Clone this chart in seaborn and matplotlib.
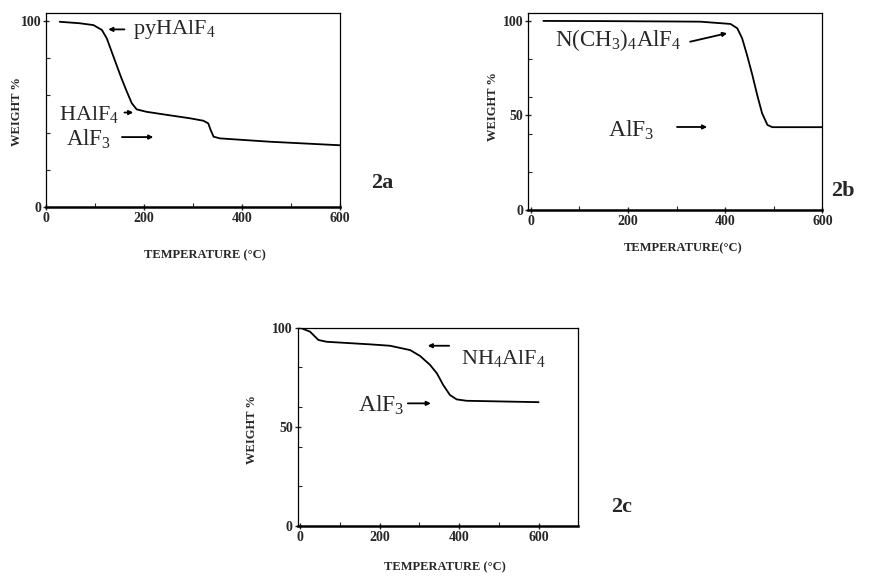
import numpy as np
import pandas as pd
import seaborn as sns
import matplotlib.pyplot as plt

# TGA curves (temperature in C, weight %)
temp_a = [28, 69, 97, 114, 124, 134, 144, 154, 165, 175, 185, 205, 240, 294,
          321, 331, 336, 342, 355, 457, 600]
weight_a = [99.6, 98.8, 97.8, 95.2, 90.7, 83.5, 76.3, 69.2, 62.0, 55.8, 52.5,
            51.2, 49.8, 47.7, 46.4, 45.0, 41.4, 37.8, 36.9, 35.1, 33.2]

temp_b = [26, 150, 294, 349, 411, 425, 435, 445, 456, 466, 476, 487, 497, 600]
weight_b = [100.0, 99.9, 99.7, 99.6, 98.4, 96.1, 90.8, 82.0, 71.4, 60.8, 51.2,
            45.0, 43.8, 43.8]

temp_c = [0, 25, 46, 67, 176, 226, 277, 302, 327, 344, 360, 377, 394, 419, 600]
weight_c = [100.0, 98.0, 93.8, 92.9, 91.6, 90.9, 88.7, 85.7, 81.2, 77.0, 71.1,
            66.0, 63.8, 63.1, 62.4]

sns.set_style('ticks')
plt.rcParams['font.family'] = ['Liberation Serif', 'DejaVu Serif']
plt.rcParams['mathtext.fontset'] = 'custom'
plt.rcParams['mathtext.rm'] = 'Liberation Serif'
plt.rcParams['mathtext.default'] = 'regular'

fig = plt.figure(figsize=(8.78, 5.82), dpi=100)
ax_a = fig.add_axes([0.0524, 0.6443, 0.3349, 0.3333])
ax_b = fig.add_axes([0.6017, 0.6392, 0.3349, 0.3385])
ax_c = fig.add_axes([0.3391, 0.0967, 0.3196, 0.3402])

def style_axes(ax, xlim, ylim, yticks, xticks):
    ax.set_xlim(*xlim)
    ax.set_ylim(*ylim)
    ax.set_xticks(xticks)
    ax.set_yticks(yticks)
    ax.set_xticks([100, 300, 500], minor=True)
    ax.set_yticks([20, 40, 60, 80], minor=True)
    for s in ax.spines.values():
        s.set_visible(True)
        s.set_linewidth(0.9)
        s.set_color('black')
    ax.spines['bottom'].set_linewidth(1.8)
    ax.tick_params(which='major', direction='inout', length=5, width=1,
                   labelsize=10, pad=1)
    ax.tick_params(which='minor', direction='in', length=3, width=0.8)
    for lbl in ax.get_xticklabels() + ax.get_yticklabels():
        lbl.set_fontweight('bold')
    ax.set_xlabel('')
    ax.set_ylabel('')

arrow = dict(arrowstyle='-|>', color='black', lw=1.3, mutation_scale=6,
             shrinkA=0, shrinkB=0)
label_kw = dict(fontsize=9, fontweight='bold', ha='center', va='center')

# 2a
sns.lineplot(x=temp_a, y=weight_a, ax=ax_a, color='black', linewidth=1.3)
style_axes(ax_a, (0, 600), (0, 104.3), [0, 100], [0, 200, 400, 600])
ax_a.annotate('', xy=(127, 95.5), xytext=(160, 95.5), arrowprops=arrow)
ax_a.text(178, 95.5, 'pyHAlF$_4$', fontsize=16, va='center', ha='left')
ax_a.text(27, 49.5, 'HAlF$_4$', fontsize=16, va='center', ha='left')
ax_a.annotate('', xy=(178, 50.8), xytext=(160, 50.8), arrowprops=arrow)
ax_a.text(40, 36.5, 'AlF$_3$', fontsize=16.5, va='center', ha='left')
ax_a.annotate('', xy=(219, 37.6), xytext=(155, 37.6), arrowprops=arrow)
fig.text(17 / 878, 1 - 112 / 582, 'WEIGHT %', rotation=90, **label_kw)
fig.text(205 / 878, 1 - 255 / 582, 'TEMPERATURE (°C)', **label_kw)
fig.text(382 / 878, 1 - 183 / 582, '2a', fontsize=16, fontweight='bold',
         ha='center', va='center')

# 2b
sns.lineplot(x=temp_b, y=weight_b, ax=ax_b, color='black', linewidth=1.3)
style_axes(ax_b, (-5, 600), (0, 104.2), [0, 50, 100], [0, 200, 400, 600])
ax_b.text(50, 90, 'N(CH$_3$)$_4$AlF$_4$', fontsize=16.5, va='center', ha='left')
ax_b.annotate('', xy=(404, 93.5), xytext=(328, 89), arrowprops=arrow)
ax_b.text(160, 42.3, 'AlF$_3$', fontsize=17, va='center', ha='left')
ax_b.annotate('', xy=(363, 43.9), xytext=(301, 43.9), arrowprops=arrow)
fig.text(493 / 878, 1 - 107 / 582, 'WEIGHT %', rotation=90, **label_kw)
fig.text(683 / 878, 1 - 248 / 582, 'TEMPERATURE(°C)', **label_kw)
fig.text(843 / 878, 1 - 191 / 582, '2b', fontsize=16, fontweight='bold',
         ha='center', va='center')

# 2c
sns.lineplot(x=temp_c, y=weight_c, ax=ax_c, color='black', linewidth=1.3)
style_axes(ax_c, (-6, 700), (0, 100), [0, 50, 100], [0, 200, 400, 600])
ax_c.annotate('', xy=(321, 90.9), xytext=(375, 90.9), arrowprops=arrow)
ax_c.text(405, 84.5, 'NH$_4$AlF$_4$', fontsize=16, va='center', ha='left')
ax_c.text(146, 60.9, 'AlF$_3$', fontsize=17, va='center', ha='left')
ax_c.annotate('', xy=(329, 61.8), xytext=(271, 61.8), arrowprops=arrow)
fig.text(252 / 878, 1 - 430 / 582, 'WEIGHT %', rotation=90, **label_kw)
fig.text(445 / 878, 1 - 567 / 582, 'TEMPERATURE (°C)', **label_kw)
fig.text(622 / 878, 1 - 507 / 582, '2c', fontsize=16, fontweight='bold',
         ha='center', va='center')

fig.savefig('out.png', dpi=100)
